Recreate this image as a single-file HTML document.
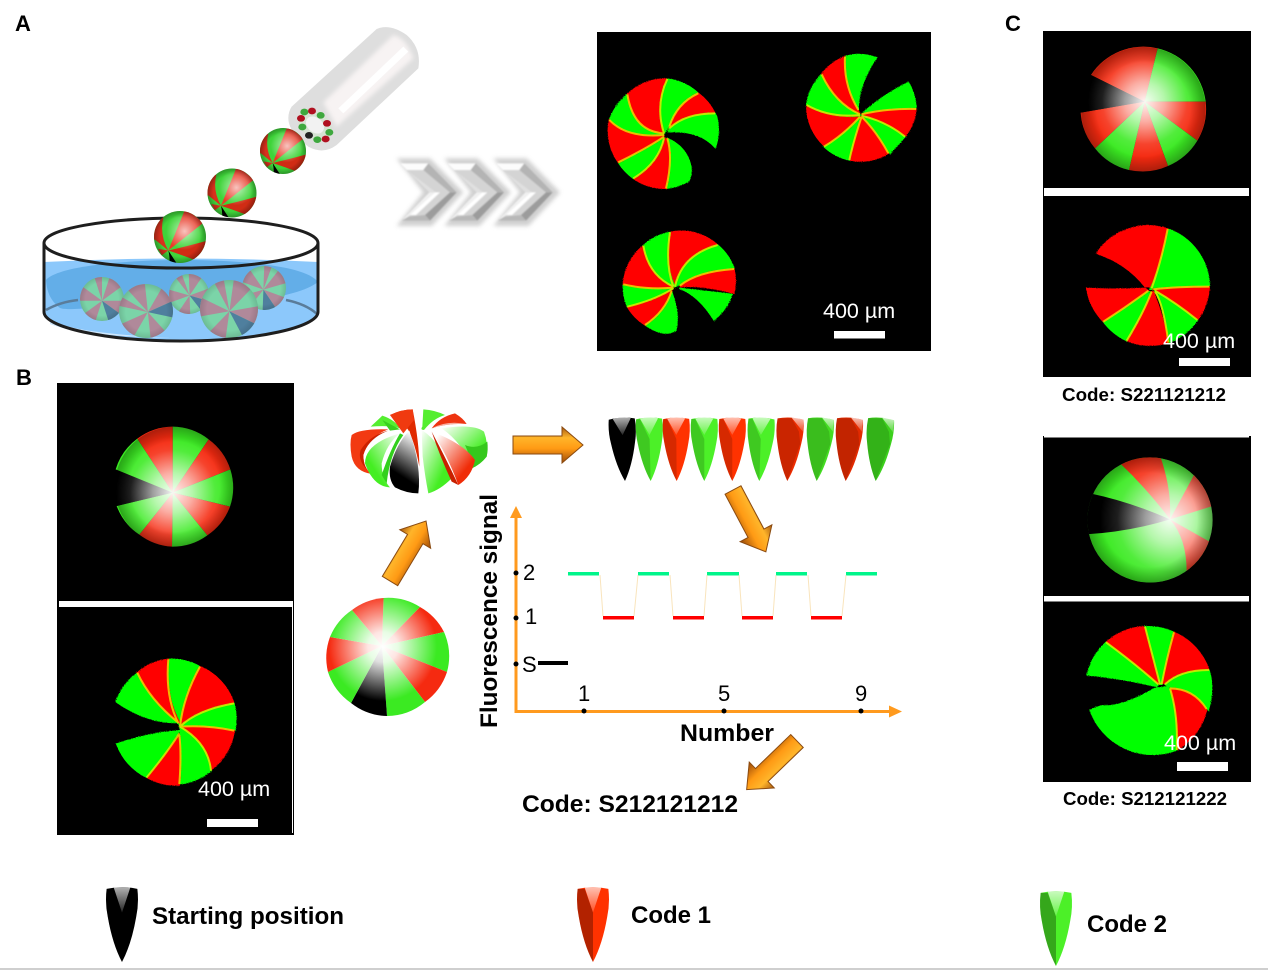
<!DOCTYPE html>
<html><head><meta charset="utf-8"><style>
html,body{margin:0;padding:0;background:#fff;width:1268px;height:970px;overflow:hidden}
svg{display:block}
text{font-family:"Liberation Sans",sans-serif}
.b{font-weight:bold;fill:#000}
.w{fill:#fff;font-size:21.5px}
.n{fill:#000;font-size:22px}
.r{fill:#ff0000;stroke:#ff0000;stroke-width:4}.g{fill:#00ff00;stroke:#00ff00;stroke-width:4}
.y{fill:none;stroke:#eee800;stroke-width:6;opacity:.8}
.sr{fill:#f52a10}.sg{fill:#3bea22}.sk{fill:#000}
</style></head><body>
<svg width="1268" height="970" viewBox="0 0 1268 970" xmlns="http://www.w3.org/2000/svg">
<defs>
<filter id="fz" x="-5%" y="-5%" width="110%" height="110%"><feTurbulence type="fractalNoise" baseFrequency="0.6" numOctaves="2" result="n"/><feDisplacementMap in="SourceGraphic" in2="n" scale="6"/></filter>
<filter id="sf" x="-10%" y="-10%" width="120%" height="120%"><feGaussianBlur stdDeviation="1"/></filter>
<filter id="sf3" x="-5%" y="-5%" width="110%" height="110%"><feGaussianBlur stdDeviation="2"/></filter>
<filter id="sf2" x="-30%" y="-30%" width="160%" height="160%"><feGaussianBlur stdDeviation="6"/></filter>
<linearGradient id="ar" x1="0" y1="0" x2="0" y2="1"><stop offset="0" stop-color="#a85a10"/><stop offset=".3" stop-color="#ffb52a"/><stop offset=".6" stop-color="#ff9a14"/><stop offset="1" stop-color="#9a4a08"/></linearGradient>
<radialGradient id="hl"><stop offset="0" stop-color="#fff" stop-opacity=".7"/><stop offset=".55" stop-color="#fff" stop-opacity=".3"/><stop offset="1" stop-color="#fff" stop-opacity="0"/></radialGradient>
<radialGradient id="ed"><stop offset=".75" stop-color="#000" stop-opacity="0"/><stop offset="1" stop-color="#000" stop-opacity=".3"/></radialGradient>
<linearGradient id="bw" x1=".6" y1="0" x2=".3" y2="1"><stop offset="0" stop-color="#fff"/><stop offset=".72" stop-color="#000"/></linearGradient>
<linearGradient id="wg" x1="0" y1="0" x2="0" y2="1"><stop offset="0" stop-color="#fff" stop-opacity=".7"/><stop offset="1" stop-color="#fff" stop-opacity=".15"/></linearGradient>
<linearGradient id="gw" x1="1" y1="0" x2="0" y2="1"><stop offset="0" stop-color="#fff"/><stop offset=".7" stop-color="#44ee22"/></linearGradient>
<linearGradient id="gw2" x1="0" y1="0" x2="1" y2="1"><stop offset="0" stop-color="#fff"/><stop offset=".7" stop-color="#44ee22"/></linearGradient>
<linearGradient id="rw" x1="0" y1="0" x2="1" y2="1"><stop offset=".1" stop-color="#fff"/><stop offset=".75" stop-color="#f02c08"/></linearGradient>
<radialGradient id="s1" gradientUnits="userSpaceOnUse" cx="368" cy="338" r="170"><stop offset="0" stop-color="#fff" stop-opacity=".95"/><stop offset=".35" stop-color="#fff" stop-opacity=".62"/><stop offset=".75" stop-color="#fff" stop-opacity=".12"/><stop offset="1" stop-color="#fff" stop-opacity="0"/></radialGradient>
<radialGradient id="s2" gradientUnits="userSpaceOnUse" cx="344" cy="245" r="170"><stop offset="0" stop-color="#fff" stop-opacity=".95"/><stop offset=".35" stop-color="#fff" stop-opacity=".62"/><stop offset=".75" stop-color="#fff" stop-opacity=".12"/><stop offset="1" stop-color="#fff" stop-opacity="0"/></radialGradient>
<radialGradient id="s3" gradientUnits="userSpaceOnUse" cx="420" cy="283" r="210"><stop offset="0" stop-color="#fff" stop-opacity=".95"/><stop offset=".35" stop-color="#fff" stop-opacity=".62"/><stop offset=".75" stop-color="#fff" stop-opacity=".12"/><stop offset="1" stop-color="#fff" stop-opacity="0"/></radialGradient>
<radialGradient id="s4" gradientUnits="userSpaceOnUse" cx="383" cy="647" r="54"><stop offset="0" stop-color="#fff"/><stop offset=".28" stop-color="#fff" stop-opacity=".88"/><stop offset="1" stop-color="#fff" stop-opacity="0"/></radialGradient>
<clipPath id="cc"><circle r="100"/></clipPath>
<clipPath id="c2"><circle cx="360" cy="285" r="188"/></clipPath>
<g id="fb"><g clip-path="url(#cc)">
<rect x="-100" y="-100" width="200" height="200" fill="#3fd43a"/>
<path d="M-45 52Q-80 -10 -64 -75L-130 -70V10L-96 10Z" fill="#d8301c"/>
<path d="M-45 52L-85 45L-70 70Z" fill="#d8301c"/>
<path d="M-45 52L21 -110L90 -55Z" fill="#e83a28"/>
<path d="M-45 52Q30 35 115 11L75 95Q10 70 -45 52Z" fill="#d02c14"/>
<path d="M-45 52Q-38 80 -41 100L-7 110Q-30 75 -45 52Z" fill="#000"/>
</g><circle r="100" fill="url(#ed)"/><circle cx="18" cy="-22" r="72" fill="url(#hl)"/></g>
<g id="mb"><g clip-path="url(#cc)"><rect x="-100" y="-100" width="200" height="200" fill="#7bd4a8"/>
<g transform="translate(0,8)" fill="#b0899a"><path d="M0 0L43 -133L113 -82Z"/><path d="M0 0L140 0L113 82Z"/><path d="M0 0L-43 133L-113 82Z"/><path d="M0 0L-140 0L-113 -82Z"/><path d="M0 0L-43 -133L0 -140Z"/><path d="M0 0L43 133L113 82Z" fill="#4f7f9e"/></g></g>
<circle r="100" fill="url(#ed)" opacity=".4"/></g>
<path id="bu" d="M-13 -62Q0 -65 13 -62Q14.500 -50 12 -38Q8 -15 0 0Q-8 -15 -12 -38Q-14.500 -50 -13 -62Z"/>
<g id="bd"><path d="M-13 -62Q-14.500 -50 -12 -38Q-8 -15 0 0L0 -42L-9 -62Z" fill="#000" opacity=".16"/><path d="M-9 -62.500Q0 -65 9 -62.500L0 -46Z" fill="url(#wg)"/></g>
<g id="bl"><path d="M-13 -62Q-14.500 -50 -12 -38Q-8 -15 0 0L0 -42L-7 -62Z" fill="#000" opacity=".3"/><path d="M-7 -63Q0 -64 7 -63L0 -42Z" fill="url(#wg)"/></g>
<g id="be"><path d="M-13 -62Q-14.500 -50 -12 -38Q-8 -15 0 0L11 -38L9 -50L1 -63Z" fill="#000" opacity=".14"/><path d="M1 -63.500Q6 -64 13 -62L13 -50Z" fill="url(#wg)"/></g>
<path id="arw" fill="url(#ar)" stroke="#8a4a10" stroke-width="1" d="M0 -9H49V-18L70 0L49 18V9H0Z"/>
<g id="chv">
<path d="M30 40H115L200 127L120 212H35L118 127Z" fill="#d4d4d4"/>
<path d="M30 40H115L100 60H50Z" fill="#fcfcfc"/>
<path d="M115 40L200 127H180L100 60Z" fill="#b4b4b4"/>
<path d="M200 127L120 212L105 195L180 127Z" fill="#9c9c9c"/>
<path d="M120 212H35L55 200L105 195Z" fill="#b8b8b8"/>
<path d="M35 212L118 127H138L55 200Z" fill="#f0f0f0"/>
<path d="M30 40L118 127H138L50 60Z" fill="#e0e0e0"/>
<path d="M135 127H150L78 195H60Z" fill="#fff"/>
</g>
</defs>
<rect width="1268" height="970" fill="#fff"/>
<rect x="0" y="968" width="1268" height="2" fill="#cfcfcf"/>

<text class="b" x="15" y="31" font-size="22">A</text>
<text class="b" x="16" y="385" font-size="22">B</text>
<text class="b" x="1005" y="31" font-size="22">C</text>

<!-- dish -->
<path d="M44 262Q181 255 318 262V312A137 28 0 0 1 44 312Z" fill="#8cc8fb"/>
<path d="M46 280C60 264 140 260 181 260C230 260 305 264 318 282C300 296 250 304 181 304C110 304 70 312 60 308C50 300 47 292 46 280Z" fill="#63aee8"/>
<path d="M50 318Q60 332 170 338Q80 336 50 324Z" fill="#cfe8fd"/>
<path d="M46 310Q60 302 78 300M286 300Q306 304 317 314" stroke="#5a7c9a" stroke-width="2.5" fill="none"/>
<use href="#mb" transform="translate(264,288) scale(.22) rotate(20)"/>
<use href="#mb" transform="translate(102,299) scale(.22) rotate(0)"/>
<use href="#mb" transform="translate(189,294) scale(.2) rotate(-20)"/>
<use href="#mb" transform="translate(146,311) scale(.27) rotate(-60)"/>
<use href="#mb" transform="translate(229,309) scale(.29) rotate(-10)"/>
<ellipse cx="181" cy="243" rx="137" ry="25" fill="none" stroke="#1e1e1e" stroke-width="3"/>
<path d="M44 243V312C44 327 105 341 181 341S318 327 318 312V243" fill="none" stroke="#1e1e1e" stroke-width="3"/>
<!-- tube -->
<g transform="translate(280,15) scale(.33333)">
<path d="M35 275L290 42Q330 25 380 60Q425 100 415 160L170 390Q130 420 85 395Q25 350 25 310Q25 290 35 275Z" fill="#dedede" filter="url(#sf)"/>
<path d="M130 262L340 60Q380 70 400 130L170 335Z" fill="#f7f3f3" filter="url(#sf2)"/>
<path d="M175 280L370 95L385 110L190 295Z" fill="#fff" filter="url(#sf)"/>
<ellipse cx="105" cy="330" rx="58" ry="40" transform="rotate(40 105 330)" fill="#cde8c8" opacity=".5"/>
<ellipse cx="105" cy="330" rx="30" ry="22" transform="rotate(40 105 330)" fill="#f2f2f2"/>
<ellipse cx="73" cy="291" rx="12" ry="10" fill="#3ea83e"/><ellipse cx="96" cy="288" rx="12" ry="10" fill="#b01020"/><ellipse cx="122" cy="301" rx="12" ry="10" fill="#3ea83e"/><ellipse cx="141" cy="325" rx="12" ry="10" fill="#b01020"/><ellipse cx="148" cy="352" rx="12" ry="10" fill="#3ea83e"/><ellipse cx="137" cy="372" rx="12" ry="10" fill="#b01020"/><ellipse cx="112" cy="374" rx="12" ry="10" fill="#3ea83e"/><ellipse cx="87" cy="361" rx="12" ry="10" fill="#222"/><ellipse cx="67" cy="336" rx="12" ry="10" fill="#3ea83e"/><ellipse cx="63" cy="310" rx="12" ry="10" fill="#b01020"/>
</g>
<use href="#fb" transform="translate(283,151) scale(.23)"/>
<use href="#fb" transform="translate(232,193) scale(.245)"/>
<use href="#fb" transform="translate(180,237) scale(.26)"/>
<!-- chevrons -->
<g transform="translate(390,150) scale(.33333)">
<path d="M20 25H120L220 127L125 228H20L100 127ZM163 25H263L363 127L268 228H163L243 127ZM310 25H410L510 127L415 228H310L390 127Z" fill="#c4c4c4" filter="url(#sf2)" opacity=".8"/>
<g filter="url(#sf3)"><use href="#chv"/><use href="#chv" x="142"/><use href="#chv" x="288"/></g>
</g>

<!-- panel A -->
<rect x="597" y="32" width="334" height="319" fill="#000"/>
<g transform="translate(590,25) scale(.33333)">
<g filter="url(#fz)">
<path class="g" d="M222 325Q130 320 112 208Q75 240 58 285Q110 340 222 332Z"/>
<path class="r" d="M222 325Q130 320 112 208A165 165 0 0 1 232 162Q195 240 222 325Z"/>
<path class="g" d="M222 325Q195 240 232 162A165 165 0 0 1 325 205Q260 235 238 305Z"/>
<path class="r" d="M238 310Q260 235 325 205A165 165 0 0 1 375 265Q285 265 238 310Z"/>
<path class="g" d="M238 312Q285 265 375 265L380 275A165 165 0 0 1 376 368Q330 315 235 320Z"/>
<path class="g" d="M232 340Q290 365 303 425Q305 455 296 468A165 165 0 0 1 228 490Q250 400 232 340Z"/>
<path class="r" d="M222 340Q205 415 130 460A165 165 0 0 0 228 490Q250 400 232 340Z"/>
<path class="g" d="M222 335Q170 370 85 412A165 165 0 0 0 130 460Q205 415 222 340Z"/>
<path class="r" d="M222 330Q110 340 58 285A165 165 0 0 0 85 412Q170 370 222 335Z"/>
</g>
<path class="y" d="M222 335Q170 370 85 412M222 330Q110 340 58 285M222 325Q130 320 112 208M222 325Q195 240 232 162M238 305Q260 235 325 205M238 310Q285 265 375 265M228 490Q250 400 232 340M222 340Q205 415 130 460"/>

<g filter="url(#fz)">
<path class="g" d="M805 262Q760 180 765 95Q810 80 860 98Q810 170 805 240Z"/>
<path class="g" d="M825 258Q880 210 955 172A163 163 0 0 1 978 252Q890 250 815 268Z"/>
<path class="r" d="M815 268Q890 250 978 252A163 163 0 0 1 945 335Q890 290 815 272Z"/>
<path class="g" d="M815 272Q890 290 945 335L900 385Q860 320 815 275Z"/>
<path class="r" d="M815 275Q860 320 895 385A163 163 0 0 1 778 405Q790 350 815 275Z"/>
<path class="g" d="M810 275Q790 350 778 405A163 163 0 0 1 702 365Q760 330 810 275Z"/>
<path class="r" d="M810 272Q720 280 650 240A163 163 0 0 0 702 362Q760 330 810 275Z"/>
<path class="g" d="M810 270Q735 235 695 148A163 163 0 0 0 650 240Q720 280 810 272Z"/>
<path class="r" d="M808 262Q760 180 765 95A163 163 0 0 0 695 148Q735 235 808 265Z"/>
</g>
<path class="y" d="M815 272Q890 290 945 335M815 275Q860 320 895 385M815 275Q790 350 778 405M810 275Q760 330 702 365M810 270Q720 280 650 240M810 268Q735 235 695 148M805 255Q760 180 765 95M815 268Q890 250 978 252"/>

<g filter="url(#fz)">
<path class="r" d="M255 785Q222 720 240 622A165 165 0 0 1 383 660Q275 690 255 785Z"/>
<path class="g" d="M255 785Q275 690 383 660A165 165 0 0 1 432 730Q320 740 270 780Z"/>
<path class="r" d="M270 782Q320 740 432 732A165 165 0 0 1 432 805Q340 780 272 785Z"/>
<path class="g" d="M268 790L426 808A165 165 0 0 1 372 885Q325 810 268 790Z"/>
<path class="g" d="M245 800Q270 870 258 915Q225 940 165 900Q225 860 245 800Z"/>
<path class="r" d="M245 795Q225 860 165 900A165 165 0 0 1 112 845Q195 825 245 795Z"/>
<path class="g" d="M250 790Q195 825 112 845A165 165 0 0 1 100 778Q170 795 250 788Z"/>
<path class="r" d="M250 788Q170 795 100 778A165 165 0 0 1 160 662Q175 750 250 785Z"/>
<path class="g" d="M250 785Q175 750 160 662A165 165 0 0 1 240 622Q222 720 255 785Z"/>
</g>
<path class="y" d="M250 785Q225 720 240 622M255 785Q275 690 383 660M270 782Q320 740 432 732M245 798Q225 860 165 900M250 790Q195 825 112 845M250 788Q170 795 100 778M250 785Q175 750 160 662"/>
</g>
<rect x="834" y="331" width="51" height="7.500" fill="#fff"/>
<text class="w" x="823" y="318">400 µm</text>

<!-- panel B -->
<rect x="57" y="383" width="237" height="452" fill="#000"/>
<rect x="59" y="601" width="234" height="6" fill="#fff"/>
<rect x="292" y="607" width="1" height="226" fill="#fff"/>
<g transform="translate(50,380) scale(.33333)">
<path class="sg" d="M368 338L368 140A180 180 0 0 1 476 178Z"/>
<path class="sr" d="M368 338L476 178A180 180 0 0 1 541 268Z"/>
<path class="sg" d="M368 338L541 268A180 180 0 0 1 540 380Z"/>
<path class="sr" d="M368 338L540 380A180 180 0 0 1 472 466Z"/>
<path class="sg" d="M368 338L472 466A180 180 0 0 1 366 500Z"/>
<path class="sr" d="M368 338L366 500A180 180 0 0 1 268 464Z"/>
<path class="sg" d="M368 338L268 464A180 180 0 0 1 200 378Z"/>
<path class="sk" d="M368 338L200 378L197 268Z"/>
<path class="sg" d="M368 338L197 268A180 180 0 0 1 262 176Z"/>
<path class="sr" d="M368 338L262 176A180 180 0 0 1 368 140Z"/>
<circle cx="374" cy="320" r="180" fill="url(#s1)"/>
<circle cx="374" cy="320" r="180" fill="url(#ed)"/>
<g filter="url(#fz)">
<path class="g" d="M390 1040Q345 950 355 838A180 180 0 0 1 450 860Q400 950 390 1040Z"/>
<path class="r" d="M390 1040Q400 950 450 860A180 180 0 0 1 552 970Q440 990 390 1040Z"/>
<path class="g" d="M390 1040Q440 990 552 970A180 180 0 0 1 555 1050Q470 1030 390 1040Z"/>
<path class="r" d="M390 1040Q475 1035 553 1052A180 180 0 0 1 483 1170Q475 1090 390 1040Z"/>
<path class="g" d="M390 1040Q475 1090 483 1172A180 180 0 0 1 388 1212Q395 1120 390 1040Z"/>
<path class="r" d="M388 1065Q395 1120 388 1215A180 180 0 0 1 290 1192Q350 1120 388 1065Z"/>
<path class="g" d="M388 1052Q350 1120 290 1192A180 180 0 0 1 200 1092Q290 1060 388 1052Z"/>
<path class="g" d="M385 1028Q290 1030 198 965A180 180 0 0 1 262 880Q300 960 385 1028Z"/>
<path class="r" d="M385 1028Q300 960 262 878A180 180 0 0 1 355 838Q345 950 390 1030Z"/>
</g>
<path class="y" d="M390 1040Q400 950 450 860M390 1040Q440 990 552 970M390 1040Q475 1035 553 1052M390 1040Q475 1090 483 1172M388 1065Q395 1120 388 1212M388 1060Q350 1120 290 1192M385 1028Q300 960 262 878M385 1030Q345 950 355 838"/>
</g>
<rect x="207" y="819" width="51" height="8" fill="#fff"/>
<text class="w" x="198" y="796">400 µm</text>

<!-- central sphere -->
<path class="sg" d="M382 646L383.500 598A60 60 0 0 1 420 607Z"/>
<path class="sr" d="M382 646L420 607A60 60 0 0 1 444 632Z"/>
<path class="sg" d="M382 646L444 632A60 60 0 0 1 447 672Z"/>
<path class="sr" d="M382 646L447 672A60 60 0 0 1 425 702Z"/>
<path class="sg" d="M382 646L425 702A60 60 0 0 1 387 716Z"/>
<path class="sk" d="M382 646L387 716A60 60 0 0 1 351 703Z"/>
<path class="sg" d="M382 646L351 703A60 60 0 0 1 328 672Z"/>
<path class="sr" d="M382 646L328 672A60 60 0 0 1 330 637Z"/>
<path class="sg" d="M382 646L330 637A60 60 0 0 1 352 610Z"/>
<path class="sr" d="M382 646L352 610A60 60 0 0 1 383.500 598Z"/>
<circle cx="387" cy="657" r="60" fill="url(#s4)"/>

<!-- exploded sphere -->
<g transform="translate(340,400) scale(.33333)">
<path d="M35 105Q60 85 145 88Q85 110 70 165Q70 205 95 222Q45 215 35 170Q28 130 35 105Z" fill="#f23a12"/>
<path d="M145 92Q90 105 62 150Q50 185 95 222Q70 205 70 165Q85 115 145 92Z" fill="#cc2000"/>
<path d="M92 80L127 47Q165 60 180 85Q150 75 92 80Z" fill="#55ee30"/>
<path d="M127 60L180 88L150 92Z" fill="#38d01e"/>
<path d="M150 45Q185 28 218 28Q238 130 238 200Q225 130 205 90Q190 70 150 45Z" fill="#e02a00"/>
<path d="M150 45Q185 28 218 28L222 60L190 100Z" fill="#f03a10"/>
<path d="M75 190Q75 130 180 100Q140 130 125 190Q125 235 150 262Q100 260 75 190Z" fill="url(#gw)"/>
<path d="M180 100Q150 150 125 225L140 250Q150 160 190 105Z" fill="#32d01c"/>
<path d="M208 92Q170 130 150 200Q145 240 165 262Q200 280 235 280Q245 200 208 92Z" fill="url(#bw)"/>
<path d="M250 28Q285 30 315 45Q280 55 252 90Q240 90 247 80Z" fill="#55ee30"/>
<path d="M275 85Q300 50 345 40Q370 55 380 72Q320 70 275 85Z" fill="#ee3410"/>
<path d="M275 85Q320 60 380 72Q320 70 275 85Z" fill="#fff" opacity=".6"/>
<path d="M305 85Q400 70 432 95Q445 130 440 170Q420 195 395 205Q370 130 305 85Z" fill="url(#gw2)"/>
<path d="M375 135Q410 150 442 125Q445 150 440 170Q420 195 395 205Q390 165 375 135Z" fill="#35c81c"/>
<path d="M245 90Q310 130 335 235Q300 270 265 280Q255 230 248 170Z" fill="url(#gw2)"/>
<path d="M275 95Q370 130 405 180Q395 230 355 255Q320 160 275 95Z" fill="url(#rw)"/>
<path d="M275 95Q320 180 355 255L335 245Q300 170 275 95Z" fill="#c82000"/>
</g>

<!-- arrows -->
<use href="#arw" transform="translate(513,445)"/>
<use href="#arw" transform="translate(390,581) rotate(-59)"/>
<use href="#arw" transform="translate(733,490) rotate(62)"/>
<use href="#arw" transform="translate(797,741) rotate(136)"/>

<!-- bullets row -->
<g fill="#000" transform="translate(625,481) rotate(-3)"><use href="#bu"/><use href="#bd"/></g>
<g fill="#4cf028" transform="translate(650.700,481) rotate(-1.500)"><use href="#bu"/><use href="#bd"/></g>
<g fill="#ff3200" transform="translate(676.700,481) rotate(-.5)"><use href="#bu"/><use href="#bd"/></g>
<g fill="#4cf028" transform="translate(704.300,481)"><use href="#bu"/><use href="#bd"/></g>
<g fill="#ff3200" transform="translate(732.300,481)"><use href="#bu"/><use href="#bd"/></g>
<g fill="#4cf028" transform="translate(759.300,481) rotate(2)"><use href="#bu"/><use href="#bd"/></g>
<g fill="#ec2c00" transform="translate(787.300,481) rotate(3)"><use href="#bu"/><use href="#be"/></g>
<g fill="#44dc22" transform="translate(816.700,481) rotate(4)"><use href="#bu"/><use href="#be"/></g>
<g fill="#e22a00" transform="translate(845.700,481) rotate(4)"><use href="#bu"/><use href="#be"/></g>
<g fill="#3cd01c" transform="translate(875.700,481) rotate(5)"><use href="#bu"/><use href="#be"/></g>

<!-- chart -->
<path d="M516 711V514" stroke="#ff9a1e" stroke-width="3" fill="none"/>
<path d="M510 518L516 506L522 518Z" fill="#ff9a1e"/>
<path d="M514.500 711.500H892" stroke="#ff9a1e" stroke-width="3" fill="none"/>
<path d="M889 705.500L902 711.500L889 717.500Z" fill="#ff9a1e"/>
<g fill="#000"><circle cx="516" cy="573" r="2.500"/><circle cx="516" cy="618" r="2.500"/><circle cx="516" cy="664" r="2.500"/><circle cx="584" cy="711" r="2.500"/><circle cx="724" cy="711" r="2.500"/><circle cx="861" cy="711" r="2.500"/></g>
<text class="n" x="523" y="580">2</text>
<text class="n" x="525" y="624">1</text>
<text class="n" x="522" y="672">S</text>
<rect x="538" y="661" width="30" height="4" fill="#000"/>
<text class="n" x="578" y="701">1</text>
<text class="n" x="718" y="701">5</text>
<text class="n" x="855" y="701">9</text>
<g fill="#00f58a"><rect x="568" y="572" width="31" height="3.500"/><rect x="638" y="572" width="31" height="3.500"/><rect x="707" y="572" width="32" height="3.500"/><rect x="776" y="572" width="31" height="3.500"/><rect x="846" y="572" width="31" height="3.500"/></g>
<g fill="#ff0000"><rect x="603" y="616" width="31" height="3.500"/><rect x="673" y="616" width="31" height="3.500"/><rect x="742" y="616" width="31" height="3.500"/><rect x="811" y="616" width="31" height="3.500"/></g>
<path d="M600 575L603 616M634 616L638 575M670 575L673 616M704 616L707 575M739 575L742 616M773 616L776 575M808 575L811 616M842 616L846 575" stroke="#f6d8a0" stroke-width="1" fill="none" opacity=".7"/>
<text class="b" x="680" y="741" font-size="24" textLength="94" lengthAdjust="spacingAndGlyphs">Number</text>
<text class="b" transform="translate(497,728) rotate(-90)" font-size="24" textLength="234" lengthAdjust="spacingAndGlyphs">Fluorescence signal</text>
<text class="b" x="522" y="812" font-size="24" textLength="216" lengthAdjust="spacingAndGlyphs">Code: S212121212</text>

<!-- panel C1 -->
<rect x="1043" y="31" width="208" height="346" fill="#000"/>
<rect x="1044" y="188" width="205" height="8" fill="#fff"/>
<g transform="translate(1030,20) scale(.33333)">
<path class="sr" d="M344 245L183 165A187 187 0 0 1 383 85Z"/>
<path class="sg" d="M344 245L383 85A187 187 0 0 1 527 245Z"/>
<path class="sr" d="M344 245L527 245A187 187 0 0 1 502 362Z"/>
<path class="sg" d="M344 245L502 362A187 187 0 0 1 414 438Z"/>
<path class="sr" d="M344 245L414 438A187 187 0 0 1 297 450Z"/>
<path class="sg" d="M344 245L297 450A187 187 0 0 1 195 385Z"/>
<path class="sr" d="M344 245L195 385A187 187 0 0 1 152 278Z"/>
<path class="sk" d="M344 245L152 278L160 220L183 165Z"/>
<circle cx="340" cy="268" r="187" fill="url(#s2)"/>
<circle cx="340" cy="268" r="187" fill="url(#ed)"/>
<g filter="url(#fz)">
<path class="g" d="M360 808Q395 720 413 627A185 185 0 0 1 538 798Q440 795 370 808Z"/>
<path class="r" d="M370 808Q440 800 538 800A185 185 0 0 1 502 900Q440 850 375 812Z"/>
<path class="g" d="M375 812Q440 850 502 900A185 185 0 0 1 415 968Q400 850 375 815Z"/>
<path class="r" d="M370 815Q400 890 415 968A195 195 0 0 1 290 962Q340 880 365 815Z"/>
<path class="g" d="M360 815Q340 880 290 962A185 185 0 0 1 220 905Q290 860 358 815Z"/>
<path class="r" d="M355 812Q290 860 220 905A185 185 0 0 1 170 805Q260 810 345 805Z"/>
<path class="r" d="M345 800Q290 730 200 700A185 185 0 0 1 413 627Q395 720 360 800Z"/>
</g>
<path class="y" d="M365 805Q395 720 413 627M370 808Q440 800 538 800M375 812Q440 850 502 900M375 815Q400 850 415 968M365 815Q340 880 290 962M355 812Q290 860 220 905"/>
</g>
<rect x="1179" y="358" width="51" height="8" fill="#fff"/>
<text class="w" x="1163" y="348">400 µm</text>
<text class="b" x="1062" y="401" font-size="18" textLength="164" lengthAdjust="spacingAndGlyphs">Code: S221121212</text>

<!-- panel C2 -->
<rect x="1043" y="436" width="208" height="346" fill="#000"/>
<rect x="1044" y="436" width="205" height="1.500" fill="#fff"/>
<rect x="1044" y="596" width="205" height="5.500" fill="#fff"/>
<g transform="translate(1030,425) scale(.33333)">
<g clip-path="url(#c2)">
<circle cx="360" cy="285" r="188" class="sg"/>
<path class="sr" d="M420 283Q350 190 268 113L270 60L390 60L390 92Q425 190 420 283Z"/>
<path class="sr" d="M420 283L492 150L560 150L560 245L542 245Z"/>
<path class="sr" d="M420 283L535 348L580 348L580 440L470 440Q470 340 420 283Z"/>
<path class="sk" d="M420 283Q300 320 168 328L130 330L130 200L180 205Q300 230 420 283Z"/>
</g>
<circle cx="360" cy="285" r="188" fill="url(#s3)"/>
<circle cx="360" cy="285" r="188" fill="url(#ed)"/>
<g filter="url(#fz)">
<path class="r" d="M385 778Q320 720 228 652A190 190 0 0 1 345 605Q370 700 390 778Z"/>
<path class="g" d="M390 778Q370 700 345 605A190 190 0 0 1 432 622Q410 700 395 778Z"/>
<path class="r" d="M400 775Q410 700 432 622A190 190 0 0 1 537 735Q450 735 405 778Z"/>
<path class="g" d="M405 778Q450 735 537 735Q555 790 535 855Q490 790 420 788Z"/>
<path class="r" d="M420 790Q490 790 530 855A190 190 0 0 1 440 975Q445 870 420 790Z"/>
<path class="g" d="M415 785Q445 870 440 975A200 200 0 0 1 180 855L215 842Q270 850 375 790Z"/>
<path class="g" d="M385 780Q320 720 228 652A190 190 0 0 0 172 750Q280 760 380 785Z"/>
</g>
<path class="y" d="M385 778Q320 720 228 652M390 778Q370 700 345 605M395 778Q410 700 432 622M405 778Q450 735 537 735M420 790Q490 790 530 852M420 790Q445 870 440 975"/>
</g>
<rect x="1177" y="762" width="51" height="9" fill="#fff"/>
<text class="w" x="1164" y="750">400 µm</text>
<text class="b" x="1063" y="805" font-size="18" textLength="164" lengthAdjust="spacingAndGlyphs">Code: S212121222</text>

<!-- legend -->
<g fill="#000" transform="translate(122,962) scale(1.18)"><use href="#bu"/><use href="#bl"/></g>
<g fill="#ff3200" transform="translate(593,962) scale(1.18)"><use href="#bu"/><use href="#bl"/></g>
<g fill="#4cf028" transform="translate(1056,966) scale(1.18)"><use href="#bu"/><use href="#bl"/></g>
<text class="b" x="152" y="924" font-size="24" textLength="192" lengthAdjust="spacingAndGlyphs">Starting position</text>
<text class="b" x="631" y="923" font-size="24" textLength="80" lengthAdjust="spacingAndGlyphs">Code 1</text>
<text class="b" x="1087" y="932" font-size="24" textLength="80" lengthAdjust="spacingAndGlyphs">Code 2</text>
</svg>
</body></html>
